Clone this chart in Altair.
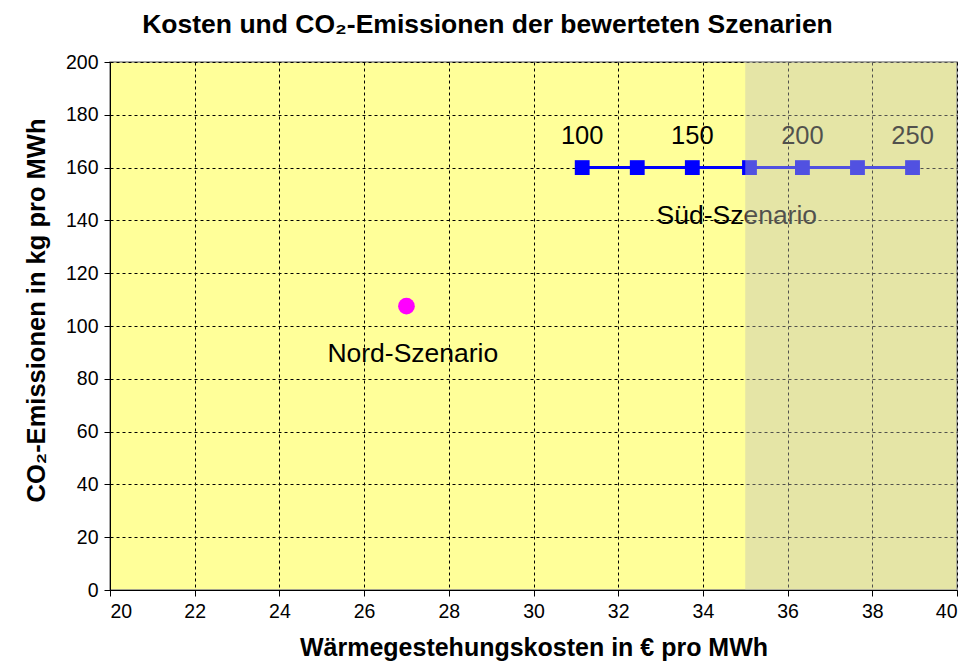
import altair as alt
import pandas as pd

# Süd-Szenario series
sued_x = [31.15, 32.45, 33.75, 35.1, 36.35, 37.65, 38.95]
sued_y = [160, 160, 160, 160, 160, 160, 160]

# labels above selected Süd points
label_text = ["100", "150", "200", "250"]
label_x = [31.15, 33.75, 36.35, 38.95]
label_y = [172, 172, 172, 172]

# Nord-Szenario point
nord_x = [27.0]
nord_y = [107.5]

# scenario names
name_text = ["Nord-Szenario", "Süd-Szenario"]
name_x = [27.15, 34.8]
name_y = [89.5, 141.5]

# shaded region
shade_x = [35]
shade_x2 = [40]

sued = pd.DataFrame({"x": sued_x, "y": sued_y})
labels = pd.DataFrame({"x": label_x, "y": label_y, "t": label_text})
nord = pd.DataFrame({"x": nord_x, "y": nord_y})
names = pd.DataFrame({"x": name_x, "y": name_y, "t": name_text})
shade = pd.DataFrame({"x": shade_x, "x2": shade_x2, "y": [0], "y2": [200]})

FONT = "Liberation Sans"

xscale = alt.Scale(domain=[20, 40], nice=False, zero=False)
yscale = alt.Scale(domain=[0, 200], nice=False)

xaxis = alt.Axis(
    values=list(range(20, 41, 2)),
    title="Wärmegestehungskosten in € pro MWh",
    grid=True, gridColor="black", gridDash=[3, 3], gridWidth=1,
    domainColor="black", tickColor="black", tickSize=6,
    labelFont=FONT, labelFontSize=19.5, labelColor="black", labelPadding=6,
    titleFont=FONT, titleFontSize=25, titleFontWeight="bold", titleColor="black",
    titleY=65, titleBaseline="alphabetic",
)
yaxis = alt.Axis(
    values=list(range(0, 201, 20)),
    title="CO₂-Emissionen in kg pro MWh",
    grid=True, gridColor="black", gridDash=[3, 3], gridWidth=1,
    domainColor="black", tickColor="black", tickSize=6,
    labelFont=FONT, labelFontSize=19.5, labelColor="black", labelPadding=6,
    titleFont=FONT, titleFontSize=25.5, titleFontWeight="bold", titleColor="black",
    titleX=-61, titleY=248,
)

base_x = alt.X("x:Q", scale=xscale, axis=xaxis)
base_y = alt.Y("y:Q", scale=yscale, axis=yaxis)

line = alt.Chart(sued).mark_line(color="#0000ff", strokeWidth=3).encode(x=base_x, y=base_y)
pts = alt.Chart(sued).mark_point(shape="square", filled=True, color="#0000ff", size=220, opacity=1).encode(
    x="x:Q", y="y:Q")
lbl = alt.Chart(labels).mark_text(font=FONT, fontSize=25.5, color="black").encode(
    x="x:Q", y="y:Q", text="t:N")
nord_pt = alt.Chart(nord).mark_point(shape="circle", filled=True, color="#ff00ff", size=280, opacity=1).encode(
    x="x:Q", y="y:Q")
nm = alt.Chart(names).mark_text(font=FONT, fontSize=26.5, color="black").encode(
    x="x:Q", y="y:Q", text="t:N")
sh = alt.Chart(shade).mark_rect(color="#c0c0b8", opacity=0.42).encode(
    x="x:Q", x2="x2:Q", y="y:Q", y2="y2:Q")

chart = alt.layer(line, pts, lbl, nord_pt, nm, sh).properties(
    width=847, height=528,
    autosize=alt.AutoSizeParams(type="none"),
    padding={"left": 102, "top": 54, "right": 9, "bottom": 71},
    title=alt.TitleParams(
        "Kosten und CO₂-Emissionen der bewerteten Szenarien",
        font=FONT, fontSize=26.5, fontWeight="bold", color="black",
        anchor="middle", dx=-46, offset=14,
    ),
).configure_view(fill="#ffff99", stroke="#888888", strokeWidth=1.5)

chart.save("out.html", embed_options={"renderer": "svg", "actions": False})
